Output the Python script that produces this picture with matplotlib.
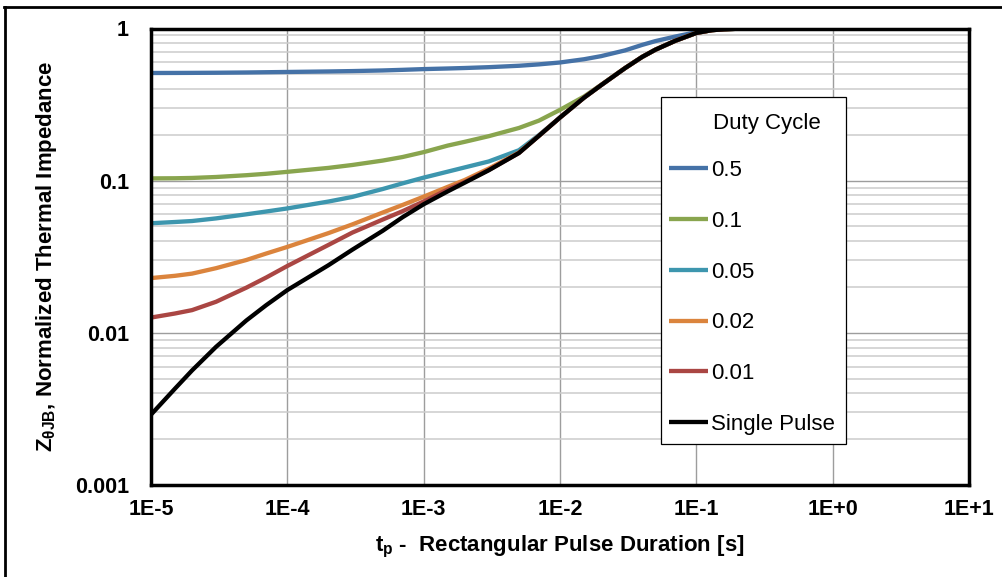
import matplotlib.pyplot as plt
from matplotlib.lines import Line2D
from matplotlib.patches import Rectangle
from matplotlib.ticker import FixedLocator, LogLocator, NullFormatter

plt.rcParams['font.family'] = ['Liberation Sans', 'DejaVu Sans']
plt.rcParams['mathtext.default'] = 'regular'

# pulse duration tp [s]
tp = [1e-5, 1.5e-5, 2e-5, 3e-5, 5e-5, 7e-5, 1e-4, 2e-4, 3e-4, 5e-4, 7e-4,
      1e-3, 1.5e-3, 2e-3, 3e-3, 5e-3, 7e-3, 1e-2, 1.5e-2, 2e-2, 3e-2, 4e-2,
      5e-2, 7e-2, 1e-1, 1.3e-1, 1.6e-1, 2e-1, 3e-1, 5e-1, 1.0]

# normalized thermal impedance
z_d05 = [0.510, 0.5105, 0.511, 0.512, 0.514, 0.516, 0.518, 0.522, 0.525, 0.530, 0.535,
         0.541, 0.546, 0.550, 0.557, 0.569, 0.581, 0.598, 0.628, 0.658, 0.718, 0.780,
         0.826, 0.885, 0.946, 0.978, 0.992, 0.998, 1.0, 1.0, 1.0]
z_d01 = [0.1035, 0.1037, 0.1042, 0.1057, 0.1086, 0.111, 0.1143, 0.1213, 0.1268, 0.1355, 0.143,
         0.154, 0.170, 0.180, 0.196, 0.222, 0.248, 0.292, 0.357, 0.426, 0.550, 0.650,
         0.725, 0.830, 0.935, 0.975, 0.989, 0.996, 0.999, 1.0, 1.0]
z_d005 = [0.0525, 0.0535, 0.0543, 0.0565, 0.0601, 0.0627, 0.0657, 0.0729, 0.0782, 0.0881, 0.096,
          0.1047, 0.1146, 0.1222, 0.1337, 0.1585, 0.199, 0.260, 0.351, 0.424, 0.549, 0.650,
          0.725, 0.830, 0.935, 0.975, 0.989, 0.996, 0.999, 1.0, 1.0]
z_d002 = [0.0229, 0.0237, 0.0245, 0.0266, 0.0301, 0.0332, 0.0367, 0.0452, 0.0516, 0.0617, 0.0692,
          0.0785, 0.091, 0.101, 0.120, 0.153, 0.197, 0.260, 0.351, 0.424, 0.549, 0.650,
          0.725, 0.830, 0.935, 0.975, 0.989, 0.996, 0.999, 1.0, 1.0]
z_d001 = [0.0126, 0.0134, 0.0141, 0.0160, 0.0198, 0.0231, 0.0275, 0.0378, 0.0456, 0.0555, 0.063,
          0.073, 0.0875, 0.098, 0.1175, 0.152, 0.197, 0.260, 0.351, 0.424, 0.549, 0.650,
          0.725, 0.830, 0.935, 0.975, 0.989, 0.996, 0.999, 1.0, 1.0]
z_single = [0.0029, 0.0043, 0.00566, 0.00809, 0.01205, 0.0152, 0.0191, 0.0278, 0.0352, 0.0468, 0.0575,
            0.070, 0.085, 0.097, 0.117, 0.152, 0.197, 0.260, 0.351, 0.424, 0.549, 0.650,
            0.725, 0.830, 0.935, 0.975, 0.989, 0.996, 0.999, 1.0, 1.0]

series = [
    ('0.5', z_d05, '#4572A7'),
    ('0.1', z_d01, '#89A54E'),
    ('0.05', z_d005, '#3D96AE'),
    ('0.02', z_d002, '#DB843D'),
    ('0.01', z_d001, '#AA4643'),
    ('Single Pulse', z_single, '#000000'),
]

x_ticks = [1e-5, 1e-4, 1e-3, 1e-2, 1e-1, 1e0, 1e1]
x_tick_labels = ['1E-5', '1E-4', '1E-3', '1E-2', '1E-1', '1E+0', '1E+1']
y_ticks = [0.001, 0.01, 0.1, 1]
y_tick_labels = ['0.001', '0.01', '0.1', '1']

W, H = 1003, 577
fig = plt.figure(figsize=(W / 100, H / 100), dpi=100)
ax_l, ax_r, ax_t, ax_b = 151, 969, 28.5, 485
ax = fig.add_axes([ax_l / W, 1 - ax_b / H, (ax_r - ax_l) / W, (ax_b - ax_t) / H])


def ax_x(px):
    return (px - ax_l) / (ax_r - ax_l)


def ax_y(py):
    return (ax_b - py) / (ax_b - ax_t)


for name, z, color in series:
    ax.plot(tp, z, color=color, linewidth=3.1, label=name, solid_capstyle='butt',
            solid_joinstyle='round')

ax.set_xscale('log')
ax.set_yscale('log')
ax.set_xlim(1e-5, 10)
ax.set_ylim(1e-3, 1)

ax.xaxis.set_major_locator(FixedLocator(x_ticks))
ax.set_xticklabels(x_tick_labels)
ax.xaxis.set_minor_locator(FixedLocator([]))
ax.yaxis.set_major_locator(FixedLocator(y_ticks))
ax.set_yticklabels(y_tick_labels)
ax.yaxis.set_minor_locator(LogLocator(base=10, subs=range(2, 10), numticks=20))
ax.yaxis.set_minor_formatter(NullFormatter())

ax.tick_params(axis='both', which='both', length=0)
ax.tick_params(axis='x', which='major', pad=10, labelsize=15.5)
ax.tick_params(axis='y', which='major', pad=16, labelsize=15.5)
for lbl in ax.get_xticklabels() + ax.get_yticklabels():
    lbl.set_fontweight('bold')

ax.grid(True, which='major', axis='both', color='#9d9d9d', linewidth=1.0)
ax.grid(True, which='minor', axis='y', color='#cccccc', linewidth=1.1)
ax.set_axisbelow(True)

for sp in ax.spines.values():
    sp.set_linewidth(2.5)
    sp.set_color('black')

ax.set_xlabel(r't$_p$ -  Rectangular Pulse Duration [s]', fontsize=16, fontweight='bold')
ax.set_ylabel(r'Z$_{\theta JB}$, Normalized Thermal Impedance', fontsize=16, fontweight='bold')
ax.xaxis.set_label_coords(0.5, -0.107)
ax.xaxis.label.set_verticalalignment('top')
ax.yaxis.set_label_coords(-0.112, 0.5)

# legend box drawn separately so its size matches the original
ax.add_patch(Rectangle((ax_x(661), ax_y(444)), ax_x(846) - ax_x(661), ax_y(97) - ax_y(444),
                       transform=ax.transAxes, facecolor='white', edgecolor='black',
                       linewidth=0.9, zorder=4))
ax.text(ax_x(767), ax_y(123), 'Duty Cycle', transform=ax.transAxes, fontsize=16,
        ha='center', va='center', zorder=6)
leg = ax.legend(loc='upper left', bbox_to_anchor=(ax_x(669), ax_y(160)), fontsize=16,
                frameon=False, labelspacing=1.34, handlelength=1.75, handletextpad=0.15,
                borderpad=0, borderaxespad=0)
leg.set_zorder(6)

# outer frame of the picture (clipped on the right and bottom)
fig.add_artist(Line2D([5.3 / W, 5.3 / W], [0, 1 - 7 / H], color='black',
                      linewidth=2.0, transform=fig.transFigure))
fig.add_artist(Line2D([4.3 / W, 1], [1 - 7 / H, 1 - 7 / H], color='black',
                      linewidth=2.0, transform=fig.transFigure))

fig.savefig('out.png', dpi=100)
